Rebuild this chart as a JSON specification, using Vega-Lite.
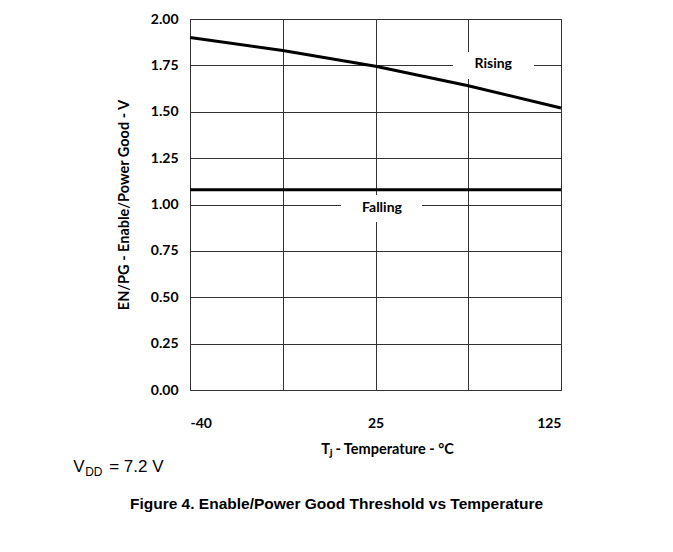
{
  "$schema": "https://vega.github.io/schema/vega-lite/v6.json",
  "width": 371,
  "height": 371,
  "autosize": "none",
  "padding": {"left": 190, "top": 19, "right": 112, "bottom": 162},
  "background": "white",
  "config": {
    "view": {"stroke": "#333", "strokeWidth": 1},
    "axis": {
      "gridColor": "#333", "gridWidth": 1, "gridOpacity": 1,
      "domainColor": "#333", "domainWidth": 1,
      "ticks": false,
      "labelFont": "Lato", "labelFontWeight": "bold", "labelFontSize": 14, "labelColor": "#000",
      "titleFont": "Lato", "titleFontWeight": "bold", "titleFontSize": 14.5, "titleColor": "#000"
    }
  },
  "title": {
    "text": "Figure 4. Enable/Power Good Threshold vs Temperature",
    "orient": "bottom", "anchor": "middle",
    "font": "Liberation Sans", "fontSize": 15.5, "fontWeight": "bold", "color": "#000",
    "dx": -39, "offset": 19
  },
  "datasets": {
    "curves": [
      {"series": "Rising", "pos": 0, "temp": -40, "v": 1.90},
      {"series": "Rising", "pos": 1, "temp": -7.5, "v": 1.83},
      {"series": "Rising", "pos": 2, "temp": 25, "v": 1.745},
      {"series": "Rising", "pos": 3, "temp": 75, "v": 1.64},
      {"series": "Rising", "pos": 4, "temp": 125, "v": 1.52},
      {"series": "Falling", "pos": 0, "temp": -40, "v": 1.08},
      {"series": "Falling", "pos": 1, "temp": -7.5, "v": 1.08},
      {"series": "Falling", "pos": 2, "temp": 25, "v": 1.08},
      {"series": "Falling", "pos": 3, "temp": 75, "v": 1.08},
      {"series": "Falling", "pos": 4, "temp": 125, "v": 1.08}
    ],
    "labels": [
      {"label": "Rising", "pos": 3.27, "v": 1.755, "x1": 2.836, "x2": 3.709, "y1": 1.677, "y2": 1.822},
      {"label": "Falling", "pos": 2.07, "v": 0.981, "x1": 1.628, "x2": 2.501, "y1": 0.906, "y2": 1.051}
    ]
  },
  "layer": [
    {
      "data": {"name": "labels"},
      "mark": {"type": "rect", "fill": "white", "stroke": null},
      "encoding": {
        "x": {"field": "x1", "type": "quantitative", "scale": {"domain": [0, 4], "nice": false, "zero": false}},
        "x2": {"field": "x2"},
        "y": {"field": "y1", "type": "quantitative", "scale": {"domain": [0, 2], "nice": false}},
        "y2": {"field": "y2"}
      }
    },
    {
      "data": {"name": "curves"},
      "mark": {"type": "line", "color": "#000", "strokeWidth": 3},
      "encoding": {
        "x": {
          "field": "pos", "type": "quantitative",
          "scale": {"domain": [0, 4], "nice": false, "zero": false},
          "axis": {
            "values": [0, 1, 2, 3, 4],
            "labelExpr": "datum.value == 0 ? '-40' : datum.value == 2 ? '25' : datum.value == 4 ? '125' : ''",
            "labelPadding": 26, "grid": true,
            "title": "Tⱼ - Temperature - °C", "titlePadding": 12, "titleX": 197
          }
        },
        "y": {
          "field": "v", "type": "quantitative",
          "scale": {"domain": [0, 2], "nice": false},
          "axis": {
            "values": [0, 0.25, 0.5, 0.75, 1, 1.25, 1.5, 1.75, 2],
            "format": ".2f", "labelPadding": 12, "grid": true,
            "title": "EN/PG - Enable/Power Good - V", "titlePadding": 19
          }
        },
        "detail": {"field": "series"}
      }
    },
    {
      "data": {"name": "labels"},
      "mark": {"type": "text", "font": "Lato", "fontWeight": "bold", "fontSize": 14, "color": "#000", "baseline": "middle", "align": "center"},
      "encoding": {
        "x": {"field": "pos", "type": "quantitative"},
        "y": {"field": "v", "type": "quantitative"},
        "text": {"field": "label"}
      }
    },
    {
      "data": {"values": [{"part": "V"}]},
      "mark": {"type": "text", "font": "Liberation Sans", "fontSize": 17, "align": "left", "baseline": "middle", "color": "#000"},
      "encoding": {
        "x": {"datum": -1.26, "type": "quantitative"},
        "y": {"datum": -0.415, "type": "quantitative"},
        "text": {"field": "part"}
      }
    },
    {
      "data": {"values": [{"part": "DD"}]},
      "mark": {"type": "text", "font": "Liberation Sans", "fontSize": 12, "align": "left", "baseline": "middle", "color": "#000", "dx": 12, "dy": 5},
      "encoding": {
        "x": {"datum": -1.26, "type": "quantitative"},
        "y": {"datum": -0.415, "type": "quantitative"},
        "text": {"field": "part"}
      }
    },
    {
      "data": {"values": [{"part": "= 7.2 V"}]},
      "mark": {"type": "text", "font": "Liberation Sans", "fontSize": 17, "align": "left", "baseline": "middle", "color": "#000", "dx": 36},
      "encoding": {
        "x": {"datum": -1.26, "type": "quantitative"},
        "y": {"datum": -0.415, "type": "quantitative"},
        "text": {"field": "part"}
      }
    }
  ]
}
